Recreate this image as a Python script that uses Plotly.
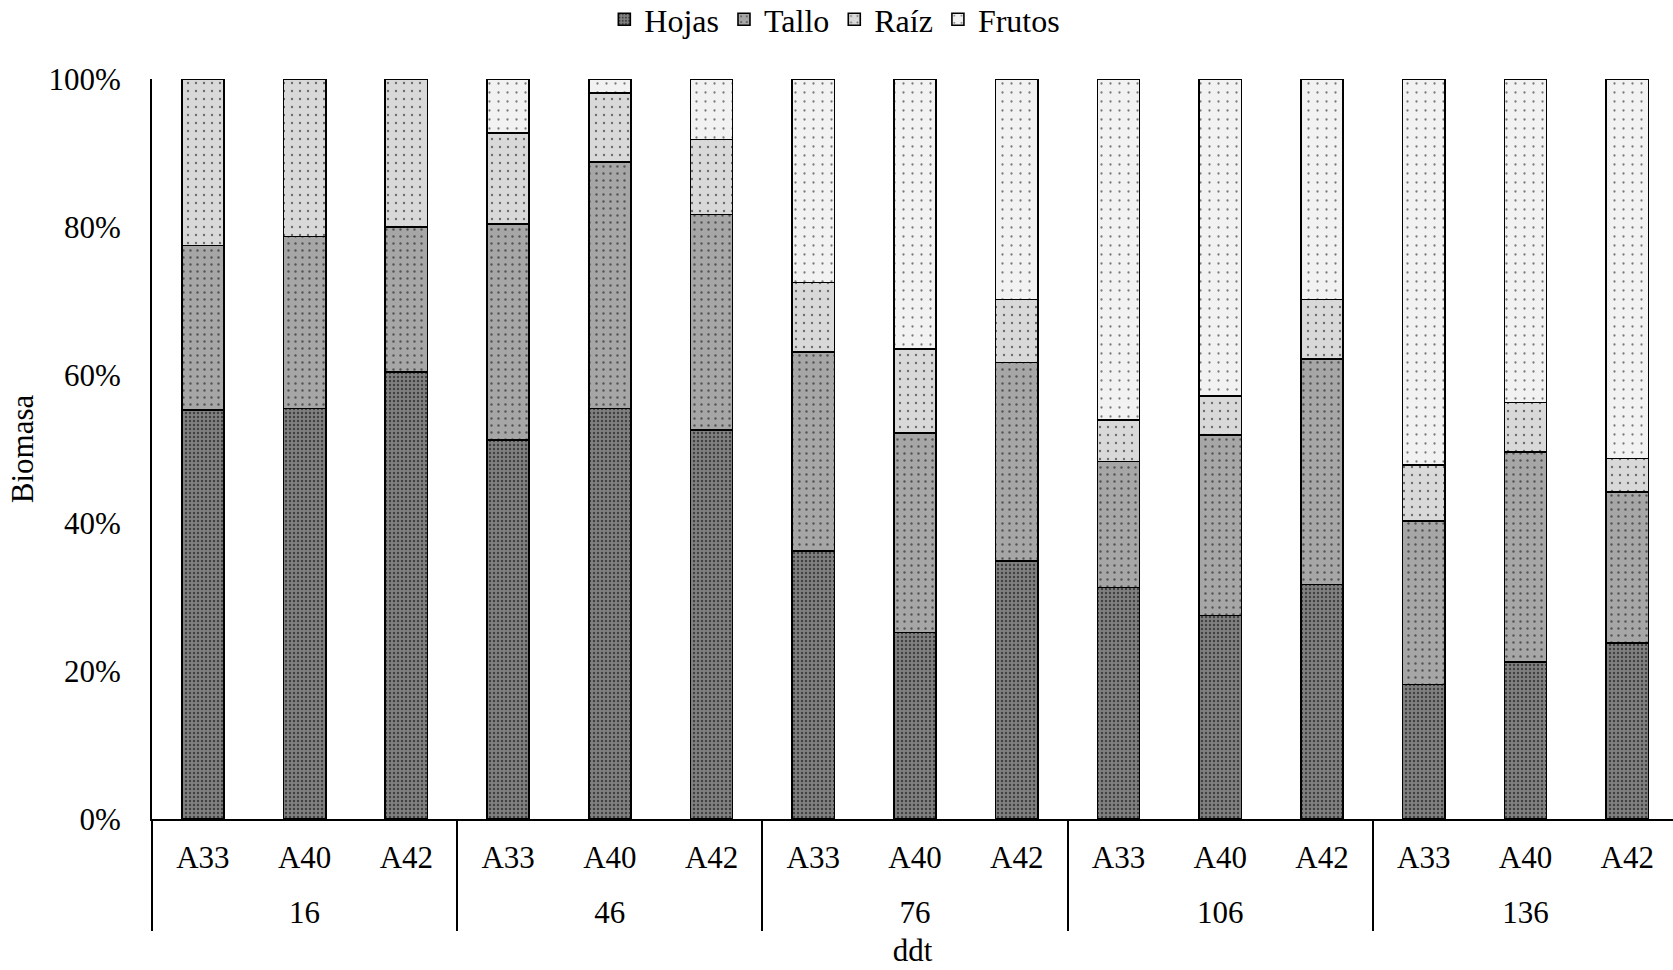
import plotly.graph_objects as go

# Days after transplant (outer level) and accession (inner level)
ddt = ["16", "46", "76", "106", "136"]
accesiones = ["A33", "A40", "A42"]

# Biomass share per organ (%) for each ddt x accession, in order
hojas = [55.3, 55.5, 60.4, 51.2, 55.5, 52.6, 36.2, 25.2, 34.9,
         31.3, 27.5, 31.7, 18.2, 21.2, 23.8]
tallo = [22.2, 23.2, 19.6, 29.2, 33.3, 29.1, 26.9, 27.0, 26.8,
         17.0, 24.4, 30.5, 22.1, 28.4, 20.4]
raiz = [22.5, 21.3, 20.0, 12.3, 9.3, 10.1, 9.4, 11.3, 8.5,
        5.6, 5.3, 8.0, 7.5, 6.7, 4.5]
frutos = [0.0, 0.0, 0.0, 7.3, 1.9, 8.2, 27.5, 36.5, 29.8,
          46.1, 42.8, 29.8, 52.2, 43.7, 51.3]

FONT = "Liberation Serif"
FS = 31

# Invisible wide spacers around the inner labels make that label row taller,
# which opens up the gap before the ddt row underneath.
SPACER = "<span style='font-size:57px'>\u00a0</span>"

outer = [d for d in ddt for _ in accesiones]
inner = [SPACER + a + SPACER for _ in ddt for a in accesiones]

series = [
    ("Hojas", hojas, "#808080", 4, 0.28),
    ("Tallo", tallo, "#a6a6a6", 7, 0.09),
    ("Raíz", raiz, "#d9d9d9", 8, 0.07),
    ("Frutos", frutos, "#f2f2f2", 9, 0.05),
]

fig = go.Figure()
for name, vals, color, psize, sol in series:
    fig.add_trace(go.Bar(
        name=name,
        x=[outer, inner],
        y=[v / 100 for v in vals],
        marker=dict(
            color=color,
            line=dict(color="#000000", width=1.6),
            pattern=dict(shape=".", fgcolor="#000000", bgcolor=color,
                         size=psize, solidity=sol, fillmode="overlay"),
        ),
        hovertemplate="%{y:.1%}<extra>" + name + "</extra>",
    ))

fig.update_layout(
    barmode="stack",
    bargap=0.585,
    width=1673,
    height=970,
    margin=dict(l=152, r=0, t=79, b=151),
    paper_bgcolor="white",
    plot_bgcolor="white",
    font=dict(family=FONT, size=FS, color="#000000"),
    legend=dict(
        orientation="h",
        xref="container", yref="container",
        x=0.499, xanchor="center",
        y=0.98, yanchor="middle",
        font=dict(family=FONT, size=32),
        traceorder="normal",
        itemwidth=30,
    ),
    xaxis=dict(
        type="multicategory",
        range=[-0.5, 14.45],
        showline=True,
        linecolor="#000000",
        linewidth=2,
        showdividers=True,
        dividercolor="#000000",
        dividerwidth=2,
        ticks="",
        ticklabelstandoff=10,
        tickfont=dict(family=FONT, size=FS),
        title=dict(text="ddt", font=dict(family=FONT, size=FS), standoff=10),
    ),
    yaxis=dict(
        range=[0, 1],
        tickformat=".0%",
        tickvals=[0, 0.2, 0.4, 0.6, 0.8, 1.0],
        showline=True,
        linecolor="#000000",
        linewidth=2,
        showgrid=False,
        zeroline=False,
        ticks="",
        ticklabelstandoff=23,
        tickfont=dict(family=FONT, size=FS),
        title=dict(text="Biomasa", font=dict(family=FONT, size=FS), standoff=6),
    ),
)

fig.write_html("out.html")
